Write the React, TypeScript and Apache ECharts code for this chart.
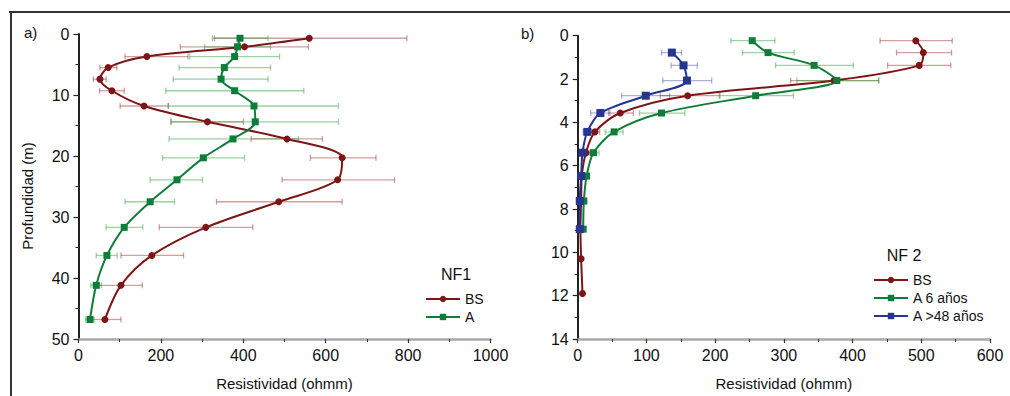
import React, { useEffect, useRef } from "react";
import * as echarts from "echarts";

const FONT = '"Liberation Sans", Arial, Helvetica, sans-serif';

// ---- NF1 (panel a) ----
const nf1Depth = [0.7, 2.1, 3.7, 5.5, 7.4, 9.3, 11.8, 14.4, 17.2, 20.3, 23.9, 27.5, 31.7, 36.3, 41.2, 46.8];
const nf1BS = [560, 403, 166, 72, 52, 81, 159, 313, 506, 640, 629, 486, 309, 178, 103, 64];
const nf1BSLow = [330, 247, 113, 52, 36, 51, 101, 225, 419, 563, 494, 335, 196, 103, 51, 26];
const nf1BSHigh = [797, 558, 266, 93, 67, 111, 218, 400, 592, 722, 767, 640, 423, 255, 155, 103];
const nf1A = [392, 386, 379, 354, 346, 379, 426, 429, 375, 303, 239, 174, 111, 69, 43, 28];
const nf1ALow = [325, 306, 270, 244, 230, 212, 218, 224, 220, 204, 174, 113, 67, 43, 30, 17];
const nf1AHigh = [460, 466, 488, 466, 460, 547, 631, 631, 534, 403, 301, 233, 156, 94, 56, 38];

// ---- NF2 (panel b) ----
const nf2Depth = [0.23, 0.78, 1.37, 2.07, 2.77, 3.57, 4.44, 5.4, 6.48, 7.63, 8.93, 10.3, 11.9];
const nf2BS = [492, 503, 497, 373, 160, 62, 25, 12, 6, 5, 4, 5, 7];
const nf2BSLow = [440, 464, 451, 310, 120, 45, 18, 7, 3, 2, 2, 3, 5];
const nf2BSHigh = [545, 544, 543, 438, 207, 81, 32, 17, 9, 8, 6, 7, 9];
const nf2A6 = [254, 277, 344, 377, 259, 122, 53, 23, 13, 9, 8, null, null];
const nf2A6Low = [223, 240, 288, 319, 206, 90, 40, 15, 9, 6, 6, null, null];
const nf2A6High = [287, 315, 401, 438, 314, 156, 66, 31, 17, 12, 10, null, null];
const nf2A48 = [null, 137, 154, 159, 99, 33, 14, 7, 5, 3, 3, null, null];
const nf2A48Low = [null, 122, 136, 124, 64, 19, 8, 4, 3, 2, 2, null, null];
const nf2A48High = [null, 151, 174, 195, 134, 47, 20, 10, 7, 5, 4, null, null];

const RED = "#7d1416";
const GREEN = "#0f7d3a";
const BLUE = "#26358f";

function pts(vals: (number | null)[], depth: number[]) {
  const out: number[][] = [];
  vals.forEach((v, i) => {
    if (v !== null) out.push([v, depth[i]]);
  });
  return out;
}
function errs(lo: (number | null)[], hi: (number | null)[], depth: number[]) {
  const out: number[][] = [];
  lo.forEach((l, i) => {
    const h = hi[i];
    if (l !== null && h !== null) out.push([l, h, depth[i]]);
  });
  return out;
}

function errRender(color: string) {
  return (params: any, api: any) => {
    const lo = api.coord([api.value(0), api.value(2)]);
    const hi = api.coord([api.value(1), api.value(2)]);
    const h = 3;
    const style = { stroke: color, lineWidth: 1.3 };
    return {
      type: "group",
      children: [
        { type: "line", shape: { x1: lo[0], y1: lo[1], x2: hi[0], y2: hi[1] }, style },
        { type: "line", shape: { x1: lo[0], y1: lo[1] - h, x2: lo[0], y2: lo[1] + h }, style },
        { type: "line", shape: { x1: hi[0], y1: hi[1] - h, x2: hi[0], y2: hi[1] + h }, style },
      ],
    };
  };
}

function xAxisCfg(grid: number, max: number, interval: number) {
  return {
    type: "value",
    gridIndex: grid,
    min: 0,
    max,
    interval,
    position: "bottom",
    axisLine: { show: true, onZero: false, lineStyle: { color: "#a8a8a8", width: 2.5 } },
    axisTick: { show: true, length: 4, lineStyle: { color: "#333", width: 1.2 } },
    minorTick: { show: true, splitNumber: 2, length: 3, lineStyle: { color: "#333", width: 1 } },
    splitLine: { show: false },
    minorSplitLine: { show: false },
    axisLabel: { fontSize: 16, color: "#111", fontFamily: FONT, margin: 8, formatter: (v: number) => String(v) },
    name: "Resistividad (ohmm)",
    nameLocation: "middle",
    nameGap: 37,
    nameTextStyle: { fontSize: 15, color: "#111", fontFamily: FONT },
  };
}
function yAxisCfg(grid: number, max: number, interval: number) {
  return {
    type: "value",
    gridIndex: grid,
    min: 0,
    max,
    interval,
    inverse: true,
    axisLine: { show: true, onZero: false, lineStyle: { color: "#222", width: 2 } },
    axisTick: { show: true, length: 5, lineStyle: { color: "#222", width: 1.2 } },
    minorTick: { show: true, splitNumber: 2, length: 3, lineStyle: { color: "#222", width: 1 } },
    splitLine: { show: false },
    minorSplitLine: { show: false },
    axisLabel: { fontSize: 16, color: "#111", fontFamily: FONT, margin: 9, formatter: (v: number) => String(v) },
  };
}

function lineSeries(name: string, data: number[][], color: string, symbol: string, xi: number, size = 7) {
  return {
    type: "line",
    name,
    xAxisIndex: xi,
    yAxisIndex: xi,
    data,
    smooth: 0.3,
    symbol,
    symbolSize: size,
    itemStyle: { color },
    lineStyle: { color, width: 2 },
    z: 3,
  };
}
function errSeries(name: string, data: number[][], color: string, xi: number) {
  return {
    type: "custom",
    name,
    xAxisIndex: xi,
    yAxisIndex: xi,
    data,
    encode: { x: [0, 1], y: 2 },
    renderItem: errRender(color),
    z: 1,
    silent: true,
  };
}

export default function App() {
  const ref = useRef<HTMLDivElement>(null);
  useEffect(() => {
    if (!ref.current) return;
    const chart = echarts.init(ref.current, undefined, { renderer: "svg" });
    const legendBase = {
      orient: "vertical",
      itemWidth: 34,
      itemHeight: 8,
      itemGap: 0,
      padding: 0,
      textStyle: { fontSize: 14, lineHeight: 18, color: "#111", fontFamily: FONT },
    };
    chart.setOption({
      animation: false,
      backgroundColor: "#fff",
      textStyle: { fontFamily: FONT },
      grid: [
        { left: 78.5, top: 34, width: 412, height: 305.3 },
        { left: 577.7, top: 35.7, width: 412.3, height: 304.6 },
      ],
      xAxis: [xAxisCfg(0, 1000, 200), xAxisCfg(1, 600, 100)],
      yAxis: [yAxisCfg(0, 50, 10), yAxisCfg(1, 14, 2)],
      legend: [
        { ...legendBase, data: ["BS", "A"], left: 425, top: 290 },
        { ...legendBase, data: ["BS", "A 6 años", "A >48 años"], left: 873, top: 271 },
      ],
      graphic: [
        { type: "line", shape: { x1: 9, y1: 12, x2: 1010, y2: 12 }, style: { stroke: "#333", lineWidth: 2 } },
        { type: "line", shape: { x1: 11, y1: 12, x2: 11, y2: 396 }, style: { stroke: "#333", lineWidth: 2 } },
        { type: "text", left: 24, top: 25, style: { text: "a)", fontSize: 15, fill: "#111", fontFamily: FONT } },
        { type: "text", left: 521, top: 26, style: { text: "b)", fontSize: 15, fill: "#111", fontFamily: FONT } },
        {
          type: "text",
          x: 27,
          y: 196,
          rotation: Math.PI / 2,
          style: { text: "Profundidad (m)", fontSize: 15, fill: "#111", fontFamily: FONT, align: "center", verticalAlign: "middle" },
        },
        { type: "text", x: 456, y: 274, style: { text: "NF1", fontSize: 16, fill: "#111", fontFamily: FONT, align: "center", verticalAlign: "middle" } },
        { type: "text", x: 904, y: 255, style: { text: "NF 2", fontSize: 16, fill: "#111", fontFamily: FONT, align: "center", verticalAlign: "middle" } },
      ],
      series: [
        errSeries("BS err1", errs(nf1BSLow, nf1BSHigh, nf1Depth), "rgba(150,45,45,0.45)", 0),
        errSeries("A err1", errs(nf1ALow, nf1AHigh, nf1Depth), "rgba(60,165,70,0.5)", 0),
        lineSeries("BS", pts(nf1BS, nf1Depth), RED, "circle", 0),
        lineSeries("A", pts(nf1A, nf1Depth), GREEN, "rect", 0),
        errSeries("BS err2", errs(nf2BSLow, nf2BSHigh, nf2Depth), "rgba(150,45,45,0.45)", 1),
        errSeries("A6 err2", errs(nf2A6Low, nf2A6High, nf2Depth), "rgba(60,165,70,0.5)", 1),
        errSeries("A48 err2", errs(nf2A48Low, nf2A48High, nf2Depth), "rgba(70,80,175,0.45)", 1),
        lineSeries("BS", pts(nf2BS, nf2Depth), RED, "circle", 1),
        lineSeries("A 6 años", pts(nf2A6, nf2Depth), GREEN, "rect", 1),
        lineSeries("A >48 años", pts(nf2A48, nf2Depth), BLUE, "rect", 1, 8),
      ],
    });
    return () => chart.dispose();
  }, []);
  return (
    <div
      ref={ref}
      style={{ position: "fixed", left: 0, top: 0, width: 1010, height: 396, background: "#fff" }}
    />
  );
}
